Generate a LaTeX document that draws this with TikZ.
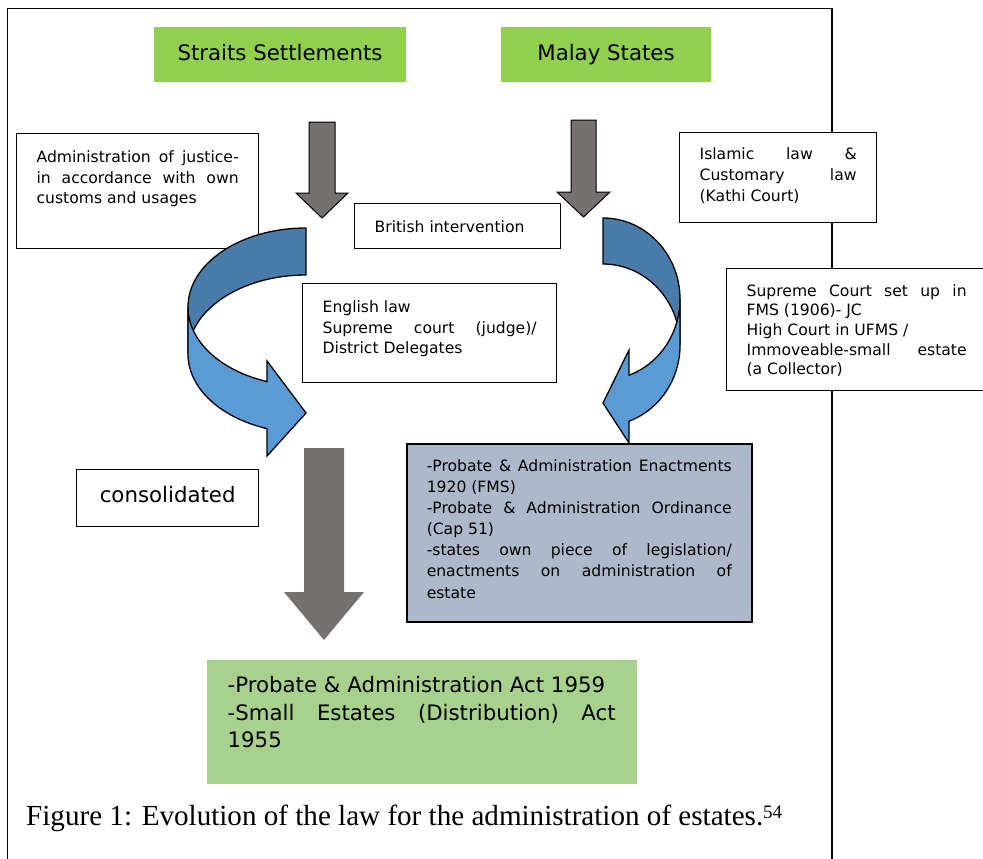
\documentclass[tikz,border=0pt]{standalone}
\usepackage{fontspec}
\setmainfont{DejaVu Sans}
\newfontfamily\capfont{Liberation Serif}
\definecolor{titlegreen}{HTML}{92D050}
\definecolor{actgreen}{HTML}{A9D18E}
\definecolor{arrowgray}{HTML}{767171}
\definecolor{probateblue}{HTML}{ADB9CA}
\definecolor{curvedark}{HTML}{497CAA}
\definecolor{curvelight}{HTML}{5B9BD5}
\newcommand{\smalltext}{\fontsize{15.6}{20.8}\selectfont}
\newcommand{\bigtext}{\fontsize{21.3}{27.8}\selectfont}
\tikzstyle{headbox}=[fill=titlegreen, font=\bigtext, minimum height=55, inner sep=0, text height=16, text depth=5]
\tikzstyle{textbox}=[draw, line width=1.3, fill=white, anchor=north west, font=\smalltext, align=justify, inner xsep=20, inner ysep=0, text height=28.7]
\tikzstyle{blockarrow}=[fill=arrowgray, draw=black, line width=1]
\tikzstyle{curveback}=[fill=curvedark, draw=black, line width=1.3]
\tikzstyle{curvefront}=[fill=curvelight, draw=black, line width=1.3]
\hyphenpenalty=10000
\begin{document}
\begin{tikzpicture}[x=1pt, y=-1pt]
    \useasboundingbox (0,0) rectangle (983,859);
    % frame
    \draw[line width=1.5] (7.5,859) |- (832,8.5) -- (832,859);

    \node[headbox, minimum width=252] (straits) at (280,54.5) {Straits Settlements};
    \node[headbox, minimum width=210] (malay)   at (606,54.5) {Malay States};

    \node[textbox, text width=202, text depth=86.3] (justice) at (16,133)
        {Administration of justice-\linebreak in accordance with own\linebreak customs and usages};
    \node[textbox, text width=166, text depth=16.3] (british) at (354,203) {British intervention};
    \node[textbox, text width=214, text depth=70.3] (english) at (302,283)
        {English law\\ Supreme court (judge)/\linebreak District Delegates};
    \node[textbox, text width=157, text height=27.3, text depth=62.7] (islamic) at (679,132)
        {Islamic law \&\linebreak Customary law\linebreak (Kathi Court)};
    \node[textbox, font=\fontsize{15.6}{19.6}\selectfont, text width=220, text height=27.7, text depth=94.3] (supreme) at (726,268)
        {Supreme Court set up in\linebreak FMS (1906)- JC\\ High Court in UFMS /\\ Immoveable-small estate\linebreak (a Collector)};
    \node[textbox, fill=probateblue, line width=1.5, font=\fontsize{15.6}{21.1}\selectfont, text width=305, text height=27.7, text depth=150.3] (probate) at (406,443)
        {-Probate \& Administration Enactments\linebreak 1920 (FMS)\\ -Probate \& Administration Ordinance\linebreak (Cap 51)\\ -states own piece of legislation/\linebreak enactments on administration of\linebreak estate};
    \node[textbox, font=\bigtext, align=center, text width=142, text height=32.7, text depth=24.3] (consolidated) at (76,469) {consolidated};
    \node[textbox, draw=none, fill=actgreen, font=\bigtext, inner xsep=21, text width=388, text height=32.7, text depth=91.3] (act) at (206,659)
        {-Probate \& Administration Act 1959\\ -Small Estates (Distribution) Act\linebreak 1955};

    \node[anchor=base west, inner sep=0, font=\capfont\fontsize{29.1}{34}\selectfont] (caption) at (26,825)
        {Figure 1: Evolution of the law for the administration of estates.\raisebox{7pt}{\fontsize{19}{19}\selectfont 54}};

    % block arrows
    \draw[blockarrow] (309,122) -- (335,122) -- (335,193) -- (348,193) -- (322,218) -- (296,193) -- (309,193) -- cycle;
    \draw[blockarrow] (571,120) -- (596,120) -- (596,192) -- (610,192) -- (583.5,217) -- (557,192) -- (571,192) -- cycle;
    \fill[arrowgray] (304,448) -- (344,448) -- (344,592) -- (364,592) -- (324,640) -- (284,592) -- (304,592) -- cycle;

    % curved arrow, left
    \draw[curveback] (306,228) arc[start angle=90, end angle=180, x radius=118pt, y radius=79pt]
        -- (188,354) arc[start angle=180, end angle=90, x radius=118pt, y radius=79pt] -- cycle;
    \draw[curvefront] (188,307) arc[start angle=180, end angle=250.7, x radius=118pt, y radius=79pt]
        -- (267,361) -- (306,413) -- (267,456) -- (267,428.6)
        arc[start angle=250.7, end angle=180, x radius=118pt, y radius=79pt] -- cycle;
    % curved arrow, right
    \draw[curveback] (603,218) arc[start angle=90, end angle=0, x radius=77pt, y radius=81pt]
        -- (680,345) arc[start angle=0, end angle=90, x radius=77pt, y radius=81pt] -- cycle;
    \draw[curvefront] (680,299) arc[start angle=0, end angle=-70.3, x radius=77pt, y radius=81pt]
        -- (629,350) -- (603,403) -- (629,443) -- (629,421.2)
        arc[start angle=-70.3, end angle=0, x radius=77pt, y radius=81pt] -- cycle;
\end{tikzpicture}
\end{document}
